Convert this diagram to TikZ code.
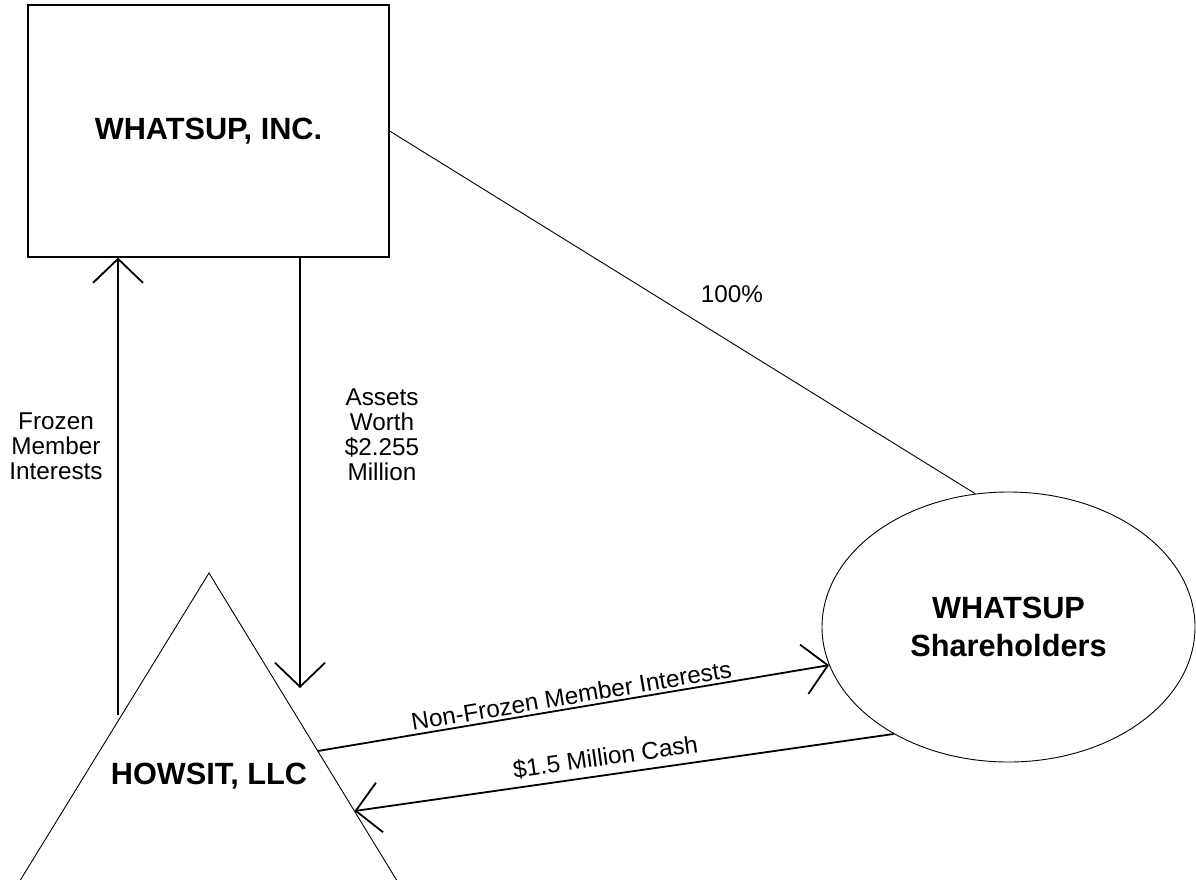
\documentclass[tikz,border=0pt]{standalone}
\usepackage{fontspec}
\setmainfont{Liberation Sans}
\usetikzlibrary{arrows.meta,shapes.geometric}
\begin{document}
\begin{tikzpicture}[x=1pt,y=-1pt,
  boldtxt/.style={font=\fontsize{30.7}{38}\selectfont\bfseries, align=center, inner sep=0pt},
  lab/.style={font=\fontsize{24.3}{25}\selectfont, align=center, inner sep=0pt},
  box/.style={draw, line width=1.2pt, minimum width=361pt, minimum height=252pt, inner sep=0pt, boldtxt},
  ell/.style={draw, ellipse, line width=0.9pt, minimum width=373pt, minimum height=270pt, inner sep=0pt, boldtxt},
  thinln/.style={line width=0.9pt},
  conn/.style={line width=1.8pt},
  arr/.style={-{Straight Barb[length=24pt,width=50pt]}},
]
\clip (0,0) rectangle (1196,879);
\fill[white] (0,0) rectangle (1196,879);

\node[box] (inc) at (208.5,131) {WHATSUP, INC.};
\node[ell] (sh) at (1008.5,627) {WHATSUP\\Shareholders};

% triangle
\coordinate (apex) at (209,573);
\coordinate (tl) at (8.1,900);
\coordinate (tr) at (408.8,900);
\draw[thinln, line join=miter] (tl) -- (apex) -- (tr);
\node[boldtxt] (howsit) at (209,776) {HOWSIT, LLC};

\coordinate (nfs) at (317.8,751);
\coordinate (csh) at (354.5,811);
\coordinate (fa) at (118,715);
\coordinate (aw) at (300,688);

\draw[conn,arr] (fa) -- (fa |- inc.south);
\draw[conn,arr] (inc.south -| aw) -- (aw);

\node[lab] (frozen) at (56,446) {Frozen\\Member\\Interests};
\node[lab] (assets) at (382,434.5) {Assets\\Worth\\\$2.255\\Million};

\draw[thinln] (inc.east) -- (sh.104.9);
\node[lab] (pct) at (732,294) {100\%};

\draw[conn,arr] (nfs) -- (sh.192.3)
  node[lab, pos=0.5, sloped, above, inner sep=3pt] (nflab) {Non-Frozen Member Interests};
\draw[conn,arr] (sh.223.3) -- (csh)
  node[lab, pos=0.53, sloped, above, inner sep=7pt] (cashlab) {\$1.5 Million Cash};
\end{tikzpicture}
\end{document}
